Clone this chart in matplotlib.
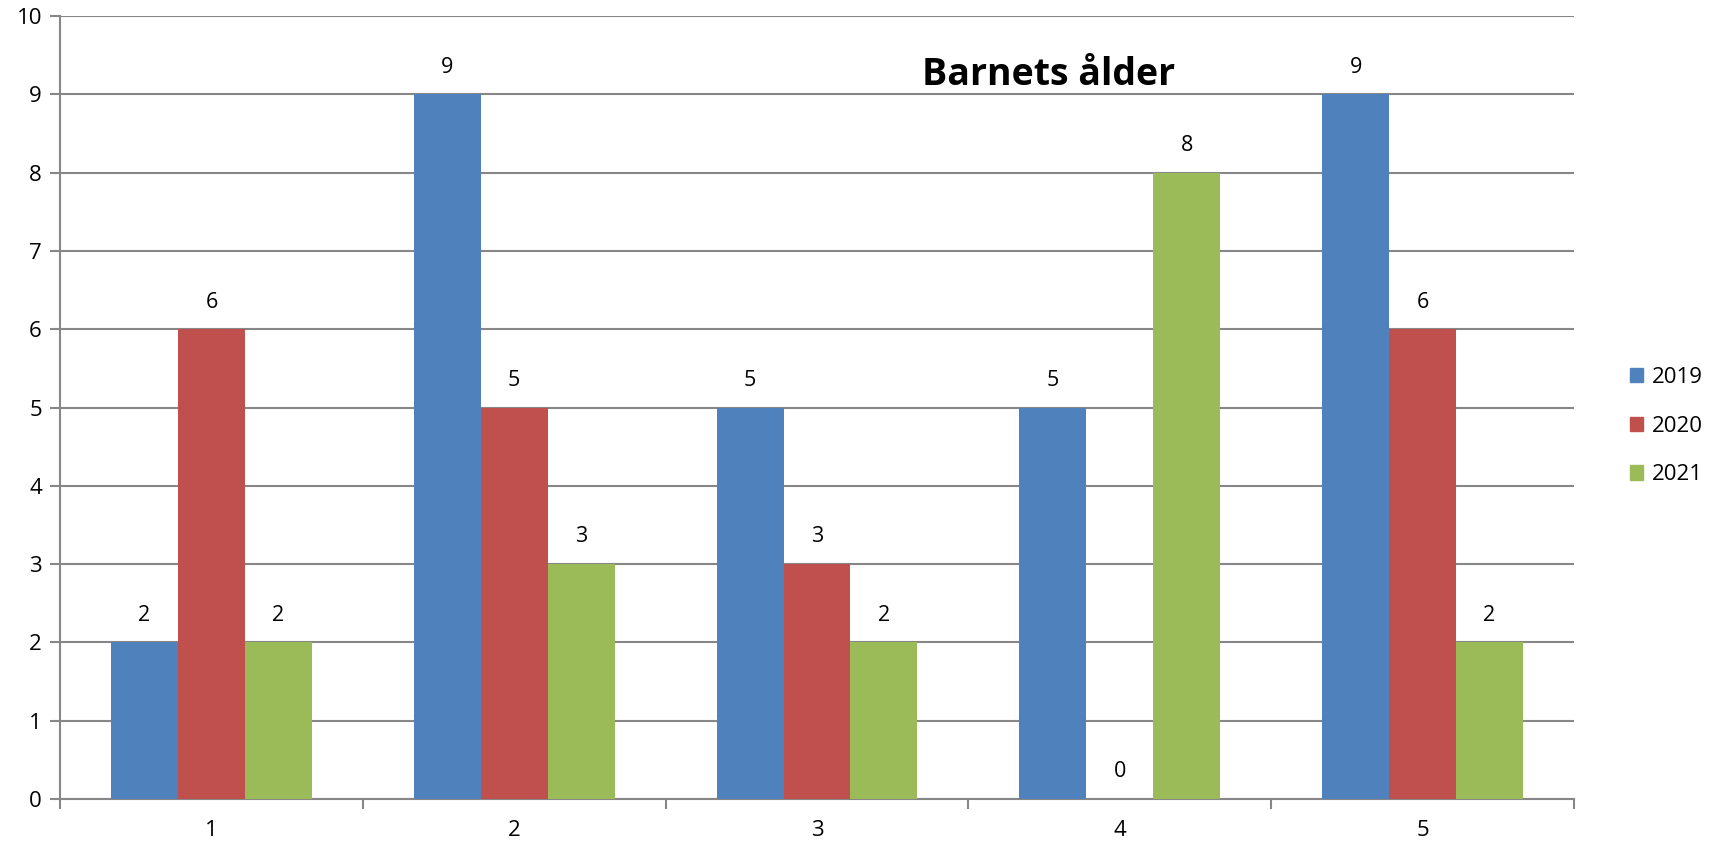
import matplotlib
matplotlib.use("Agg")
import matplotlib.pyplot as plt
import numpy as np

categories = ["1", "2", "3", "4", "5"]
series_names = ["2019", "2020", "2021"]
v2019 = [2, 9, 5, 5, 9]
v2020 = [6, 5, 3, 0, 6]
v2021 = [2, 3, 2, 8, 2]
colors = ["#4F81BD", "#C0504D", "#9BBB59"]
title = "Barnets ålder"

plt.rcParams['font.family'] = ['Open Sans', 'DejaVu Sans']

W, H = 1713, 848
fig = plt.figure(figsize=(W/100, H/100), dpi=100)
ax = fig.add_axes([60/W, 1-799/H, (1574-60)/W, (799-16)/H])

x = np.arange(len(categories))
bw = 0.221
grid_c = "#878787"
for i, (vals, c, name) in enumerate(zip([v2019, v2020, v2021], colors, series_names)):
    pos = x + (i-1)*bw
    ax.bar(pos, vals, width=bw, color=c, label=name, zorder=3, linewidth=0)
    for p, v in zip(pos, vals):
        ax.annotate(str(v), (p, v), xytext=(0, 12), textcoords="offset points",
                    ha="center", va="bottom", fontsize=15.5, color="black")

ax.set_xlim(-0.5, len(categories)-0.5)
ax.set_ylim(0, 10)
ax.set_yticks(range(0, 11))
ax.yaxis.grid(True, color=grid_c, linewidth=1.5, zorder=0)
ax.set_axisbelow(True)
ax.set_xticks(x)
ax.set_xticklabels(categories)
ax.set_xticks(np.arange(-0.5, len(categories)), minor=True)
ax.tick_params(axis='x', which='major', length=0, pad=15, labelsize=16)
ax.tick_params(axis='x', which='minor', length=7, width=1.5, color=grid_c, direction='out')
ax.tick_params(axis='y', length=7, width=1.5, color=grid_c, labelsize=16, pad=6)
for s in ['top', 'right']:
    ax.spines[s].set_visible(False)
for s in ['left', 'bottom']:
    ax.spines[s].set_color(grid_c)
    ax.spines[s].set_linewidth(1.5)

fig.text(1049/W, 1-75/H, title, ha="center", va="center", fontsize=27, fontweight="bold")

handles = [plt.Rectangle((0, 0), 1, 1, color=c) for c in colors]
leg = fig.legend(handles, series_names, loc="center left", bbox_to_anchor=(1610/W, 1-426/H),
                 frameon=False, fontsize=16, handlelength=0.6, handleheight=0.6,
                 handletextpad=0.4, labelspacing=1.25)

fig.savefig("out.png", dpi=100)
